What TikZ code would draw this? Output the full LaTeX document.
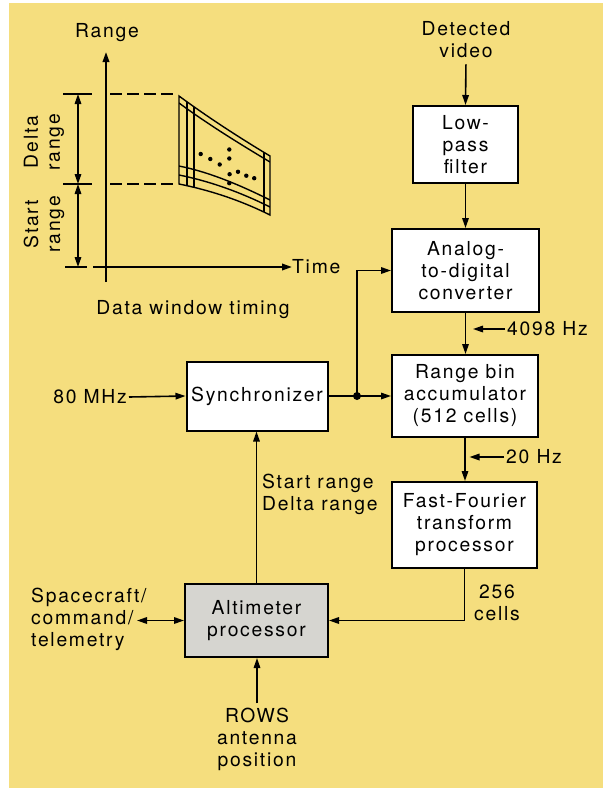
\documentclass[tikz,border=0pt]{standalone}
\usepackage{fontspec}
\setmainfont[LetterSpace=9]{TeX Gyre Heros}
\usetikzlibrary{arrows.meta,calc}
\definecolor{bgyellow}{RGB}{245,222,126}
\definecolor{boxgray}{RGB}{214,213,208}
\begin{document}
\begin{tikzpicture}[x=1pt,y=-1pt,
  every node/.style={font=\fontsize{19.3}{22}\selectfont, inner sep=2pt},
  blk/.style={draw, line width=2pt, fill=white, align=center},
  arr/.style={line width=1.6pt, -{Triangle[length=10pt,width=6.5pt]}},
  dbl/.style={line width=1.6pt, {Triangle[length=10pt,width=6.5pt]}-{Triangle[length=10pt,width=6.5pt]}},
  lbl/.style={align=center},
  win/.style={line width=1.4pt}
]
\useasboundingbox (0,0) rectangle (608,788);
\fill[bgyellow] (9,3) rectangle (603,788);

% ---------- timing diagram ----------
\node (rangelbl) at (107,33) {Range};
\node[anchor=west, inner sep=0pt] (timelbl) at (292,267) {Time};
\node (dwt) at (193,310) {Data window timing};
\node[rotate=90, lbl] (deltalbl) at (44,142) {Delta\\range};
\node[rotate=90, lbl] (startlbl) at (44,224) {Start\\range};

\draw[line width=2pt, -{Triangle[length=10pt,width=6.5pt]}] (106,282) -- (106,52);
\draw[line width=2pt, -{Triangle[length=10pt,width=6.5pt]}] (93,267) -- (timelbl.west);
\draw[line width=1.6pt] (63,94) -- (92,94);
\draw[line width=1.6pt] (63,184) -- (92,184);
\draw[line width=1.6pt] (65,267) -- (87,267);
\draw[dbl] (78,94) -- (78,184);
\draw[dbl] (78,184) -- (78,267);
\draw[line width=1.6pt, dash pattern=on 12pt off 5pt] (110,94) -- (177,94);
\draw[line width=1.6pt, dash pattern=on 12pt off 5pt] (110,184) -- (177,184);

% data window
\begin{scope}
  \clip (179,96) .. controls (209,118) and (240,138) .. (270,156) -- (270,215)
        .. controls (240,200) and (209,190) .. (179,184) -- cycle;
  \draw[win] (179,103) .. controls (209,125) and (240,144) .. (270,162);
  \draw[win] (179,166) .. controls (209,172) and (240,185) .. (270,200);
  \draw[win] (179,175) .. controls (209,181) and (240,192) .. (270,207);
  \draw[win] (187,80) -- (187,230);
  \draw[win] (194,80) -- (194,230);
  \draw[win] (264,80) -- (264,230);
\end{scope}
\draw[win] (179,96) .. controls (209,118) and (240,138) .. (270,156) -- (270,215)
      .. controls (240,200) and (209,190) .. (179,184) -- cycle;
\foreach \p in {(200.7,154),(210.3,159),(219.7,164.5),(229.3,149.5),(229.3,158.5),
                (229.6,174.2),(238,171.8),(246.3,175.7),(254.2,178.2),(229.3,183.2)}
  \fill \p circle (2.2pt);

% ---------- block diagram ----------
\node[blk, minimum width=105pt, minimum height=77pt] (lpf) at (465.5,144.5) {Low-\\pass\\filter};
\node[blk, minimum width=147pt, minimum height=83pt] (adc) at (465.5,270.5) {Analog-\\to-digital\\converter};
\node[blk, minimum width=146pt, minimum height=82pt] (rba) at (465,396) {Range bin\\accumulator\\(512 cells)};
\node[blk, minimum width=145pt, minimum height=86pt] (fft) at (464.5,525) {Fast-Fourier\\transform\\processor};
\node[blk, minimum width=141pt, minimum height=69pt] (sync) at (257,396) {Synchronizer};
\node[blk, fill=boxgray, minimum width=143pt, minimum height=73pt] (alt) at (256.5,620.5) {Altimeter\\processor};

\node[lbl] (video) at (466,40) {Detected\\video};
\node[anchor=west] (hz4) at (505,329) {4098 Hz};
\node[anchor=west] (hz20) at (504,457) {20 Hz};
\node[anchor=east] (mhz) at (129,397) {80 MHz};
\node[anchor=west, align=left] (sdr) at (260,494) {Start range\\Delta range};
\node[lbl] (cells) at (497,603) {256\\cells};
\node[anchor=west, align=left] (scft) at (29,619) {Spacecraft/\\command/\\telemetry};
\node[lbl] (rows) at (257,739) {ROWS\\antenna\\position};
\coordinate (scend) at (137,620.5);

\draw[arr, shorten <=4pt] (video.south) -- (lpf.north);
\draw[arr] (lpf.south) -- (lpf.south |- adc.north);
\draw[arr] (adc.south) -- (adc.south |- rba.north);
\draw[arr] (rba.south) -- (rba.south |- fft.north);
\draw[arr] (hz4.west) -- ([xshift=8pt]hz4.west -| rba.north);
\draw[arr] (hz20.west) -- ([xshift=5pt]hz20.west -| fft.north);
\draw[arr] (fft.south) |- (alt.east);
\draw[arr] (alt.north) -- (alt.north |- sync.south);
\draw[arr, shorten <=2pt] (rows.north) -- (rows.north |- alt.south);
\draw[dbl] (scend) -- (alt.west);
\draw[arr] (mhz.east) -- (sync.west);
\coordinate (j) at (357,396);
\draw[arr] (sync.east) -- (sync.east -| rba.west);
\draw[arr] (j) |- (adc.west);
\fill (j) circle (4pt);
\end{tikzpicture}
\end{document}
